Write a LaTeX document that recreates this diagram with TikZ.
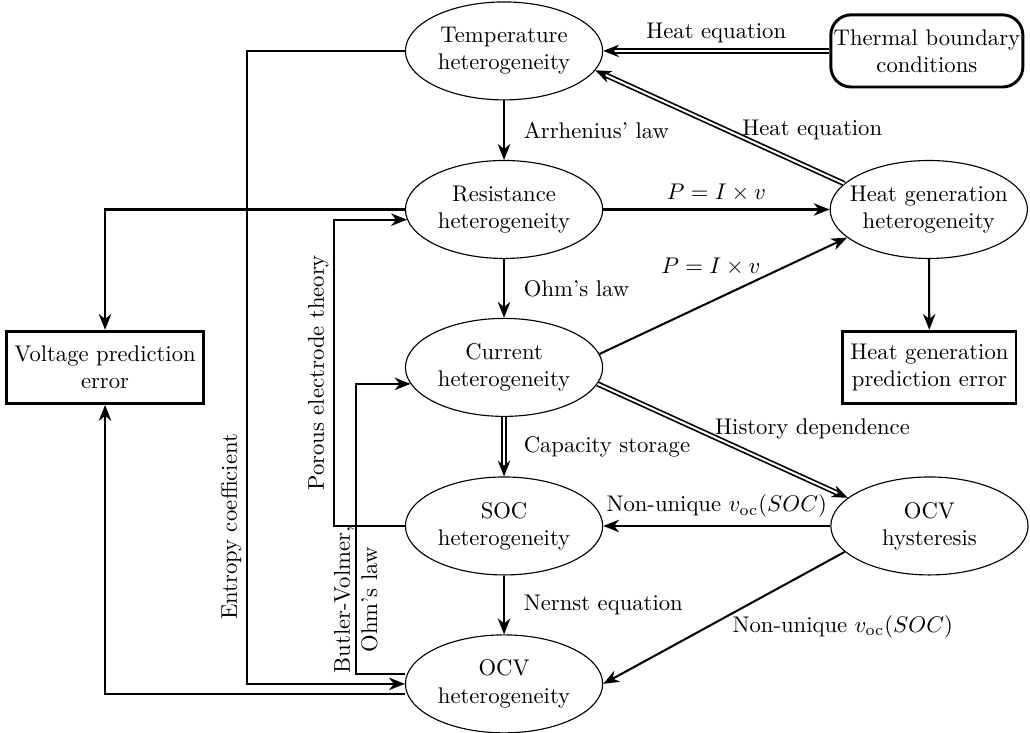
\documentclass[tikz,border=0pt]{standalone}
\usepackage{amsmath}
\usetikzlibrary{shapes.geometric,arrows.meta}

\begin{document}
\begin{tikzpicture}[
    >={Stealth[length=7pt,width=5.5pt,inset=2.2pt]},
    hetero/.style={draw, ellipse, line width=0.5pt, minimum width=3.06cm, minimum height=1.52cm, inner xsep=-8pt, inner ysep=0pt, align=center},
    errbox/.style={draw, rectangle, line width=1.3pt, minimum height=1.12cm, align=center},
    bcbox/.style={draw, rectangle, rounded corners=9pt, line width=1.3pt, minimum width=2.98cm, minimum height=1.12cm, inner xsep=1pt, align=center},
    link/.style={->, line width=0.9pt},
    dlink/.style={->, double, double distance=0.9pt, line width=0.75pt},
    vlabel/.style={rotate=90, anchor=south, inner sep=2pt}
]
    \useasboundingbox (0,0) rectangle (15.98,-11.37);
    \node[hetero] (temp) at (7.82,-0.79) {Temperature\\heterogeneity};
    \node[hetero] (res) at (7.82,-3.25) {Resistance\\heterogeneity};
    \node[hetero] (cur) at (7.82,-5.70) {Current\\heterogeneity};
    \node[hetero] (soc) at (7.82,-8.16) {SOC\\heterogeneity};
    \node[hetero] (ocv) at (7.82,-10.61) {OCV\\heterogeneity};
    \node[bcbox] (thermal) at (14.38,-0.79) {Thermal boundary\\conditions};
    \node[hetero] (heatgen) at (14.41,-3.25) {Heat generation\\heterogeneity};
    \node[errbox] (hgerr) at (14.42,-5.70) {Heat generation\\prediction error};
    \node[hetero] (hyst) at (14.42,-8.16) {OCV\\hysteresis};
    \node[errbox] (volterr) at (1.63,-5.70) {Voltage prediction\\error};

    \draw[dlink] (thermal) -- node[above] (lheatbc) {Heat equation} (temp);
    \draw[dlink] (heatgen.163) -- node[pos=0.47, right=3pt] (lheatgen) {Heat equation} (temp.-12);
    \draw[link] (temp) -- node[right=5pt] (larrh) {Arrhenius' law} (res);
    \draw[link] (res) -- node[above] (lpowres) {$P = I \times v$} (heatgen);
    \draw[link] (res) -- node[right=5pt] (lohm) {Ohm's law} (cur);
    \draw[link] (cur.8) -- node[pos=0.45, above=8pt] (lpowcur) {$P = I \times v$} (heatgen.199);
    \draw[link] (heatgen) -- (hgerr);
    \draw[dlink] (cur) -- node[right=5pt] (lcap) {Capacity storage} (soc);
    \draw[dlink] (cur.-10) -- node[pos=0.5, above right, xshift=-7pt, yshift=-3pt] (lhist) {History dependence} (hyst.161);
    \draw[link] (hyst) -- node[above] (lnonsoc) {Non-unique $v_{\mathrm{oc}}(SOC)$} (soc);
    \draw[link] (soc) -- node[right=5pt] (lnernst) {Nernst equation} (ocv);
    \draw[link] (hyst.197) -- node[right, yshift=-4pt] (lnonocv) {Non-unique $v_{\mathrm{oc}}(SOC)$} (ocv.east);

    \draw[link] (temp.west) -- ++(-2.45,0) |- node[pos=0.376, vlabel] (lentropy) {Entropy coefficient} (ocv.west);
    \draw[link] (soc.west) -- ++(-1.1,0) |- node[pos=0.25, vlabel] (lporous) {Porous electrode theory} (res.186);
    \draw[link] ([yshift=0.15cm]ocv.west) -- ++(-0.76,0) |- node[pos=0.128, rotate=90, align=center] (lbv) {Butler-Volmer,\\Ohm's law} (cur.190);
    \draw[link] (res.west) -| (volterr.north);
    \draw[link] ([yshift=-0.15cm]ocv.west) -| (volterr.south);
\end{tikzpicture}
\end{document}
